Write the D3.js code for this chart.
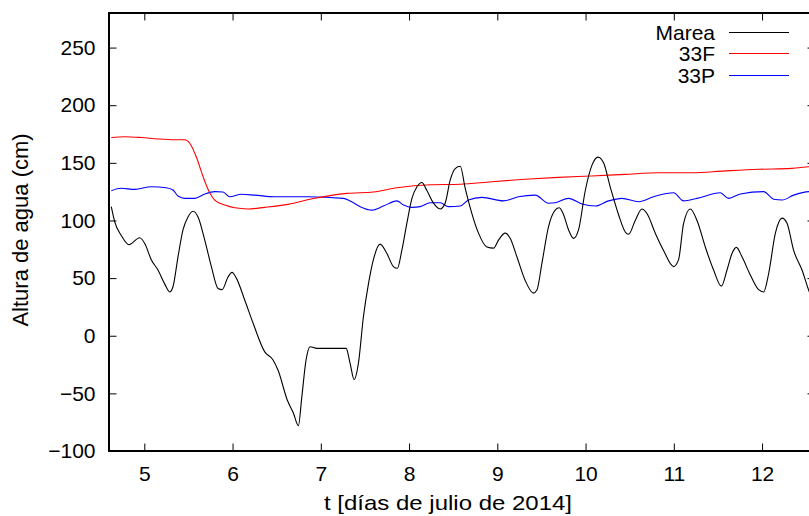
<!DOCTYPE html>
<html>
<head>
<meta charset="utf-8">
<script src="https://cdn.jsdelivr.net/npm/d3@7"></script>
<style>
  body { margin: 0; background: #fff; }
  svg { display: block; font-family: "Liberation Sans", Arial, sans-serif; }
</style>
</head>
<body>
<div class="canvas"></div>
<script>
// datos: [dia de julio, altura cm]
const marea = [
  [4.626, 112], [4.664, 99], [4.739, 87], [4.827, 79], [4.948, 85], [5.005, 80],
  [5.079, 66], [5.155, 57], [5.231, 45], [5.288, 38], [5.325, 42.5], [5.382, 68.5],
  [5.439, 92], [5.495, 103], [5.552, 108], [5.609, 103], [5.685, 83], [5.760, 60],
  [5.836, 41], [5.881, 40], [5.949, 51], [5.994, 55], [6.043, 50], [6.138, 31],
  [6.232, 11], [6.365, -14], [6.459, -21], [6.516, -30], [6.621, -56], [6.689, -67],
  [6.746, -78], [6.785, -53], [6.833, -21], [6.879, -9.5], [6.955, -11], [7.105, -11],
  [7.287, -11], [7.332, -24], [7.378, -38], [7.426, -24], [7.483, 16.5], [7.540, 45],
  [7.596, 66], [7.672, 79.5], [7.748, 71.5], [7.823, 60], [7.868, 58.5], [7.918, 74],
  [7.975, 97.5], [8.032, 119], [8.088, 129], [8.145, 133], [8.202, 126], [8.277, 115],
  [8.353, 110], [8.409, 115], [8.466, 135], [8.523, 145], [8.580, 147], [8.636, 128],
  [8.712, 106], [8.787, 89], [8.882, 77], [8.957, 76], [9.014, 83], [9.090, 89],
  [9.146, 84.5], [9.222, 68.5], [9.316, 48], [9.410, 37], [9.449, 39.6], [9.506, 63],
  [9.580, 94.5], [9.656, 109], [9.702, 111], [9.751, 105], [9.807, 92], [9.864, 84.5],
  [9.921, 92], [9.997, 126], [10.073, 148], [10.141, 155], [10.204, 150], [10.280, 129],
  [10.374, 105], [10.450, 90], [10.488, 88], [10.563, 100], [10.639, 110], [10.696, 106],
  [10.790, 89], [10.884, 74], [10.998, 60], [11.054, 66], [11.111, 97.5], [11.187, 110],
  [11.263, 100], [11.357, 77], [11.451, 57], [11.539, 43], [11.603, 57], [11.660, 71.5],
  [11.709, 76.7], [11.773, 68.5], [11.867, 52.7], [11.961, 40], [12.018, 38], [12.075, 54],
  [12.151, 89], [12.227, 102], [12.283, 97.5], [12.358, 74], [12.453, 57], [12.536, 38],
  [12.6, 28]
]

const f33 = [
  [4.626, 172], [4.778, 172.7], [4.966, 172], [5.155, 170.7], [5.345, 170], [5.458, 170],
  [5.515, 167], [5.590, 155], [5.666, 138], [5.741, 124], [5.798, 117.7], [5.912, 113.4],
  [6.025, 111], [6.176, 110], [6.365, 111.4], [6.629, 114], [6.916, 119], [7.295, 123.5],
  [7.596, 124.7], [7.862, 128.4], [8.239, 131], [8.580, 131.4], [8.934, 133.6], [9.313, 135.7],
  [9.690, 137.4], [10.068, 138.6], [10.447, 140], [10.824, 141.4], [11.202, 141.4], [11.580, 143],
  [11.958, 144.4], [12.336, 145.2], [12.525, 146.6], [12.6, 147]
]

const p33 = [
  [4.626, 125.8], [4.739, 127.9], [4.891, 127], [5.079, 129.3], [5.249, 128.4], [5.325, 126.4],
  [5.382, 121.2], [5.458, 119.2], [5.571, 119.2], [5.685, 123], [5.798, 125], [5.892, 124.7],
  [5.968, 120.6], [6.100, 122.7], [6.252, 122], [6.478, 120.6], [6.856, 120.6], [7.256, 119.2],
  [7.332, 117], [7.446, 112], [7.578, 109], [7.710, 112.5], [7.862, 117], [7.937, 113.4],
  [8.032, 111.4], [8.126, 112], [8.239, 115.4], [8.353, 115.4], [8.447, 112], [8.580, 112.5],
  [8.673, 117.7], [8.825, 120], [9.070, 117], [9.240, 120.6], [9.430, 122], [9.580, 115],
  [9.656, 115.4], [9.807, 119.2], [9.959, 114.3], [10.110, 112.5], [10.261, 117], [10.413, 119.2],
  [10.601, 116.3], [10.771, 120.6], [10.998, 124], [11.111, 117], [11.263, 119.2], [11.527, 124],
  [11.621, 119.2], [11.754, 123], [12.018, 125], [12.132, 118.4], [12.227, 117.7], [12.358, 122],
  [12.536, 125], [12.6, 125]
]

const xTicks = [5, 6, 7, 8, 9, 10, 11, 12]
const yTicks = [-100, -50, 0, 50, 100, 150, 200, 250]
const names = ['Marea', '33F', '33P']
const colors = ['#000000', '#ff0000', '#0000ff']
const series = [marea, f33, p33]

const svg = d3.select('.canvas')
    .append('svg')
    .attr('width', 809)
    .attr('height', 516)

const margin = { top: 13, right: -6, bottom: 65, left: 109 }
const width = 809 - margin.left - margin.right
const height = 516 - margin.top - margin.bottom
const fs = 21

const graph = svg.append('g')
    .attr('transform', `translate(${margin.left},${margin.top})`)

// escalas
const x = d3.scaleLinear().domain([4.6, 12.6]).range([0, width])
const y = d3.scaleLinear().domain([-100, 280]).range([height, 0])

svg.append('clipPath').attr('id', 'clip')
    .append('rect').attr('width', width).attr('height', height)

const line = d3.line()
    .x(d => x(d[0]))
    .y(d => y(d[1]))
    .curve(d3.curveMonotoneX)

const lines = graph.append('g').attr('clip-path', 'url(#clip)')
for (let i = series.length - 1; i >= 0; i--) {
    lines.append('path')
        .datum(series[i])
        .attr('fill', 'none')
        .style('stroke', colors[i])
        .style('stroke-width', 1.1)
        .attr('d', line)
}

// ejes estilo gnuplot: ticks hacia dentro en los cuatro lados
const tk = 7.5
const fmt = d => d < 0 ? '\u2212' + Math.abs(d) : d
const xAxis = d3.axisBottom(x).tickValues(xTicks).tickSize(-tk).tickPadding(15.5).tickSizeOuter(0)
const yAxis = d3.axisLeft(y).tickValues(yTicks).tickSize(-tk).tickPadding(13.5).tickSizeOuter(0).tickFormat(fmt)
const xTop = d3.axisTop(x).tickValues(xTicks).tickSize(-tk).tickFormat('').tickSizeOuter(0)
const yRight = d3.axisRight(y).tickValues(yTicks).tickSize(-tk).tickFormat('').tickSizeOuter(0)

graph.append('g').attr('transform', `translate(0,${height})`).call(xAxis)
graph.append('g').call(yAxis)
graph.append('g').call(xTop)
graph.append('g').attr('transform', `translate(${width},0)`).call(yRight)

graph.selectAll('.domain').remove()
graph.selectAll('.tick line').attr('stroke', '#000').attr('stroke-width', 1)
graph.selectAll('.tick text').attr('font-size', fs).attr('fill', '#000')
    .style('font-family', '"Liberation Sans", Arial, sans-serif')

graph.append('rect')
    .attr('width', width)
    .attr('height', height)
    .attr('fill', 'none')
    .attr('stroke', '#000')
    .attr('stroke-width', 2)

// titulos
svg.append('text')
    .attr('x', 448)
    .attr('y', 510)
    .attr('text-anchor', 'middle')
    .attr('font-size', fs)
    .attr('textLength', 248)
    .attr('lengthAdjust', 'spacingAndGlyphs')
    .text('t [días de julio de 2014]')

svg.append('text')
    .attr('transform', 'translate(28,230) rotate(-90)')
    .attr('text-anchor', 'middle')
    .attr('font-size', 22)
    .text('Altura de agua (cm)')

// leyenda
const legend = svg.append('g')
names.forEach((name, i) => {
    const ly = [32.5, 53.5, 75.5][i]
    legend.append('text')
        .attr('x', 715)
        .attr('y', ly)
        .attr('dy', '0.35em')
        .attr('text-anchor', 'end')
        .attr('font-size', fs)
        .text(name)
    legend.append('path')
        .attr('d', `M729,${ly}H789`)
        .style('stroke', colors[i])
        .style('stroke-width', 1.2)
        .style('fill', 'none')
})
</script>
</body>
</html>
